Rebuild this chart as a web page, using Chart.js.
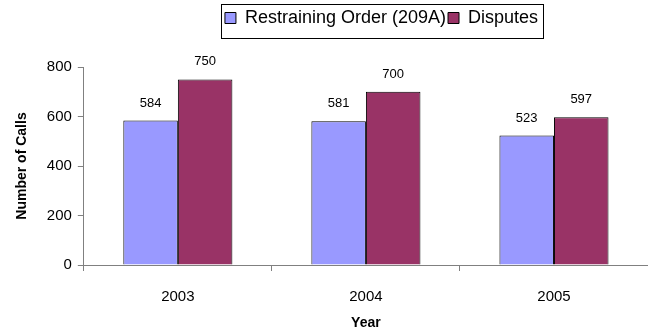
<!DOCTYPE html>
<html><head><meta charset="utf-8">
<script src="https://cdn.jsdelivr.net/npm/chart.js@4/dist/chart.umd.min.js"></script>
<style>html,body{margin:0;padding:0;background:#fff}#wrap{width:648px;height:335px}</style>
</head><body><div id="wrap"><canvas id="c"></canvas></div>
<script>
const categories = ["2003", "2004", "2005"];
const restrainingOrder = [584, 581, 523];
const disputes = [750, 700, 597];
const seriesNames = ["Restraining Order (209A)", "Disputes"];
const yTicks = [0, 200, 400, 600, 800];

const FONT = "'Liberation Sans', Arial, sans-serif";

const legendTweak = {
  id: 'legendTweak',
  afterInit(chart) {
    const lg = chart.legend;
    if (lg && !lg._patched) {
      const orig = lg.fit;
      lg.fit = function () { orig.call(this); this.height += 30; };
      lg._patched = true;
    }
  },
  afterLayout(chart) {
    const lg = chart.legend;
    lg.left += 101;
  },
  afterDraw(chart) {
    const boxes = chart.legend.legendHitBoxes;
    if (!boxes || !boxes.length) return;
    let x0 = Infinity, x1 = -Infinity, y0 = Infinity, y1 = -Infinity;
    boxes.forEach(b => { x0 = Math.min(x0, b.left); x1 = Math.max(x1, b.left + b.width); y0 = Math.min(y0, b.top); y1 = Math.max(y1, b.top + b.height); });
    const ctx = chart.ctx;
    ctx.save();
    ctx.strokeStyle = '#000';
    ctx.lineWidth = 1;
    ctx.strokeRect(Math.round(x0 - 4) + 0.5, Math.round(y0 - 5) + 0.5, Math.round(x1 - x0 + 9), Math.round(y1 - y0 + 16));
    ctx.restore();
  }
};

const valueLabels = {
  id: 'valueLabels',
  afterDatasetsDraw(chart) {
    const ctx = chart.ctx;
    ctx.save();
    ctx.font = "13px " + FONT;
    ctx.fillStyle = '#000';
    ctx.textAlign = 'center';
    ctx.textBaseline = 'bottom';
    chart.data.datasets.forEach((ds, i) => {
      chart.getDatasetMeta(i).data.forEach((el, j) => {
        ctx.fillText(String(ds.data[j]), el.x, el.y - 11);
      });
    });
    ctx.restore();
  }
};

new Chart(document.getElementById('c'), {
  type: 'bar',
  data: {
    labels: categories,
    datasets: [
      { label: seriesNames[0], data: restrainingOrder, backgroundColor: '#9999FF', borderColor: '#000', borderWidth: 1, categoryPercentage: 0.58, barPercentage: 1 },
      { label: seriesNames[1], data: disputes, backgroundColor: '#993366', borderColor: '#000', borderWidth: 1, categoryPercentage: 0.58, barPercentage: 1 }
    ]
  },
  options: {
    responsive: true,
    maintainAspectRatio: false,
    animation: false,
    layout: { padding: { top: 7, right: 0, left: 14, bottom: 3 } },
    plugins: {
      legend: {
        position: 'top',
        labels: {
          boxWidth: 11, boxHeight: 11, padding: 2,
          color: '#000',
          font: { family: FONT, size: 18 }
        }
      },
      tooltip: { enabled: false }
    },
    scales: {
      x: {
        afterFit(scale) { scale.height = 67; },
        grid: { display: true, drawOnChartArea: false, drawTicks: true, tickLength: 6, color: '#808080', offset: true },
        border: { display: true, color: '#808080' },
        ticks: { color: '#000', font: { family: FONT, size: 15 }, padding: 17 },
        title: { display: true, text: 'Year', color: '#000', font: { family: FONT, size: 14, weight: 'bold' }, padding: { top: 0, bottom: 0 } }
      },
      y: {
        min: 0, max: 800,
        afterBuildTicks(scale) { scale.ticks = yTicks.map(v => ({ value: v })); },
        grid: { display: true, drawOnChartArea: false, drawTicks: true, tickLength: 6, color: '#808080' },
        border: { display: true, color: '#808080' },
        ticks: { color: '#000', font: { family: FONT, size: 15 }, padding: 6 },
        title: { display: true, text: 'Number of Calls', color: '#000', font: { family: FONT, size: 14, weight: 'bold' }, padding: { top: 0, bottom: 10 } }
      }
    }
  },
  plugins: [legendTweak, valueLabels]
});
</script></body></html>
